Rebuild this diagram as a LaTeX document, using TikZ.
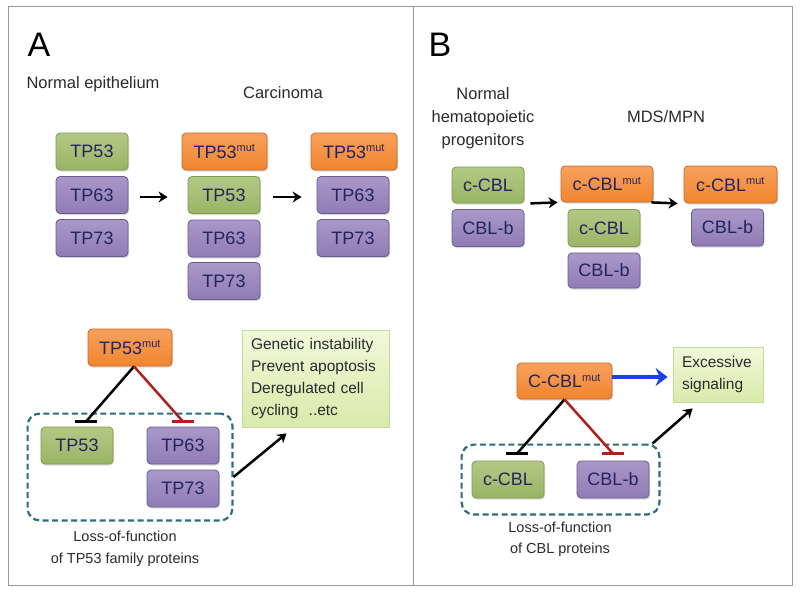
\documentclass[tikz,border=0pt]{standalone}
\usepackage{fontspec}
\setmainfont{Liberation Sans}
\usetikzlibrary{arrows.meta,fit,shadows}

\definecolor{navytext}{HTML}{24245E}
\definecolor{captext}{HTML}{2B2B2B}
\definecolor{gtop}{HTML}{B2C985}
\definecolor{gmid}{HTML}{CADDA6}
\definecolor{gbot}{HTML}{9AB465}
\definecolor{gline}{HTML}{7F9A4C}
\definecolor{ptop}{HTML}{A998C8}
\definecolor{pmid}{HTML}{C6BBDE}
\definecolor{pbot}{HTML}{8F7CB5}
\definecolor{pline}{HTML}{6B5B8E}
\definecolor{otop}{HTML}{F8A15C}
\definecolor{omid}{HTML}{FBBA86}
\definecolor{obot}{HTML}{F0852F}
\definecolor{oline}{HTML}{C9692A}
\definecolor{ntop}{HTML}{F1F8DA}
\definecolor{nbot}{HTML}{D9EAAB}
\definecolor{nline}{HTML}{C7DA96}
\definecolor{lossline}{HTML}{2C6E7E}
\definecolor{inhred}{HTML}{AE1F1F}
\definecolor{sigblue}{HTML}{1E3FE6}
\definecolor{framegray}{HTML}{9A9A9A}

\begin{document}
\begin{tikzpicture}[x=1pt,y=-1pt]
\tikzset{prot/.style={rounded corners=4pt,minimum width=72pt,minimum height=37pt,inner sep=2pt,
  text=navytext,font=\fontsize{18}{20}\selectfont,line width=0.8pt,
  drop shadow={shadow xshift=1pt,shadow yshift=-1.5pt,opacity=0.3}}}
\tikzset{wt/.style={prot,draw=gline,top color=gtop,middle color=gmid,bottom color=gbot}}
\tikzset{fam/.style={prot,draw=pline,top color=ptop,middle color=pmid,bottom color=pbot}}
\tikzset{mut/.style={prot,draw=oline,top color=otop,middle color=omid,bottom color=obot}}
\tikzset{note/.style={draw=nline,line width=0.8pt,top color=ntop,bottom color=nbot,inner xsep=9pt,inner ysep=6pt,
  text=captext,font=\fontsize{15.5}{22}\selectfont,align=left}}
\tikzset{lbl/.style={text=captext,font=\fontsize{16.5}{23}\selectfont,align=center,inner sep=0pt}}
\tikzset{lossbox/.style={draw=lossline,line width=2.2pt,dash pattern=on 6pt off 3.5pt,rounded corners=12pt}}
\tikzset{arr/.style={line width=2.5pt,-{Stealth[length=9pt,width=11pt]}}}
\tikzset{inhib/.style={line width=2.5pt}}
\tikzset{ibar/.style={line width=3pt}}
\tikzset{sig/.style={draw=sigblue,line width=4pt,-{Stealth[length=12pt,width=18pt,inset=4pt]}}}
\newcommand{\mutsup}{\textsuperscript{\fontsize{11}{11}\selectfont mut}}

\useasboundingbox (0,0) rectangle (800,592);
\fill[white] (0,0) rectangle (800,592);
\draw[framegray] (8,6) rectangle (792,585);
\draw[framegray] (413,6) -- (413,585);

\node[font=\fontsize{34}{34}\selectfont] (labA) at (39,45) {A};
\node[lbl] (normA) at (93,84) {Normal epithelium};
\node[lbl] (carc) at (283,93) {Carcinoma};

\node[wt] (a53) at (92,151.5) {TP53};
\node[fam] (a63) at (92,195) {TP63};
\node[fam] (a73) at (92,238) {TP73};
\node[mut,minimum width=85pt] (b53m) at (224.5,151.5) {TP53\mutsup};
\node[wt] (b53) at (224,195) {TP53};
\node[fam] (b63) at (224,238.5) {TP63};
\node[fam] (b73) at (224,281) {TP73};
\node[mut,minimum width=86pt] (c53m) at (354,151.5) {TP53\mutsup};
\node[fam] (c63) at (353,195) {TP63};
\node[fam] (c73) at (353,238) {TP73};
\draw[arr,shorten <=12pt,shorten >=20pt] ([yshift=-2pt]a63.east) -- ([yshift=-2pt]b53.west);
\draw[arr,shorten <=13pt,shorten >=15pt] ([yshift=-2pt]b53.east) -- ([yshift=-2pt]c63.west);

\node[mut,minimum width=84pt] (m53) at (130,347.5) {TP53\mutsup};
\node[wt] (d53) at (77,445.5) {TP53};
\node[fam] (d63) at (183,445.5) {TP63};
\node[fam] (d73) at (183,488.5) {TP73};
\node[lossbox,fit=(d53)(d63)(d73),inner sep=13pt] (lossA) {};
\coordinate (t53) at ([xshift=9pt,yshift=5pt]d53.north);
\coordinate (t63) at ([yshift=5pt]d63.north);
\draw[inhib] ([xshift=4pt]m53.south) -- (t53);
\draw[ibar] ([xshift=-11pt]t53) -- ([xshift=11pt]t53);
\draw[inhib,draw=inhred] ([xshift=4pt]m53.south) -- (t63);
\draw[ibar,draw=inhred] ([xshift=-11pt]t63) -- ([xshift=11pt]t63);
\node[note,minimum width=147pt,minimum height=97pt,text width=129pt] (genA) at (315.5,378.5)
  {Genetic instability\\Prevent apoptosis\\Deregulated cell\\cycling\ \ ..etc};
\draw[arr] ([yshift=-10pt]lossA.east) -- ([xshift=-29pt,yshift=-6pt]genA.south);
\node[lbl,font=\fontsize{14.5}{22}\selectfont] (capA) at (125,549) {Loss-of-function\\of TP53 family proteins};

\node[font=\fontsize{34}{34}\selectfont] (labB) at (440,45) {B};
\node[lbl] (normB) at (483,118) {Normal\\hematopoietic\\progenitors};
\node[lbl] (mds) at (666,117) {MDS/MPN};

\node[wt,minimum height=36pt] (e1) at (488,185) {c-CBL};
\node[fam] (e2) at (488,228) {CBL-b};
\node[mut,minimum width=92pt,minimum height=36pt] (f1) at (607,184) {c-CBL\mutsup};
\node[wt] (f2) at (604,228) {c-CBL};
\node[fam,minimum height=35pt] (f3) at (604,270.5) {CBL-b};
\node[mut,minimum width=93pt] (g1) at (730.5,184.5) {c-CBL\mutsup};
\node[fam] (g2) at (727.5,227.5) {CBL-b};
\draw[arr] ([xshift=6pt]e1.south east) -- ([xshift=-3pt]f1.south west);
\draw[arr] ([xshift=-2pt]f1.south east) -- ([xshift=-6pt]g1.south west);

\node[mut,minimum width=95pt,minimum height=36pt] (cm) at (564.5,381) {C-CBL\mutsup};
\node[note,minimum width=90pt,minimum height=55pt,text width=72pt] (exc) at (718,374.5) {Excessive\\signaling};
\node[wt] (h1) at (508,479.5) {c-CBL};
\node[fam] (h2) at (613,479.5) {CBL-b};
\node[lossbox,fit=(h1)(h2),inner xsep=10pt,inner ysep=16pt] (lossB) {};
\coordinate (tc) at ([xshift=9pt,yshift=7pt]h1.north);
\coordinate (tb) at ([yshift=7pt]h2.north);
\draw[inhib] (cm.south) -- (tc);
\draw[ibar] ([xshift=-11pt]tc) -- ([xshift=11pt]tc);
\draw[inhib,draw=inhred] (cm.south) -- (tb);
\draw[ibar,draw=inhred] ([xshift=-11pt]tb) -- ([xshift=11pt]tb);
\draw[sig] ([yshift=4pt]cm.east) -- ([xshift=-5pt,yshift=-2.5pt]exc.west);
\draw[arr] ([xshift=-8pt]lossB.north east) -- ([xshift=20pt,yshift=-6pt]exc.south west);
\node[lbl,font=\fontsize{14.5}{21}\selectfont] (capB) at (560,539.5) {Loss-of-function\\of CBL proteins};
\end{tikzpicture}
\end{document}
